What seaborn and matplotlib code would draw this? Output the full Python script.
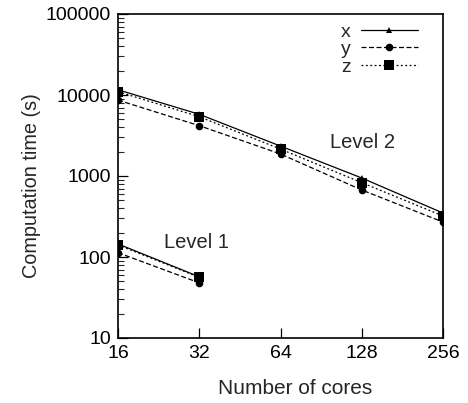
import matplotlib
matplotlib.use("Agg")
import matplotlib.pyplot as plt
import seaborn as sns
import pandas as pd
from matplotlib.lines import Line2D
from matplotlib.ticker import FixedLocator, FixedFormatter, LogLocator, NullFormatter, NullLocator

sns.set_style("white")
plt.rcParams['font.family'] = ['Liberation Sans', 'DejaVu Sans']

cores_l2 = [16, 32, 64, 128, 256]
cores_l1 = [16, 32]
x_l2 = [11600, 5780, 2340, 945, 349]
y_l2 = [8650, 4180, 1870, 672, 270]
z_l2 = [11000, 5390, 2150, 827, 321]
x_l1 = [145, 57]
y_l1 = [113, 48]
z_l1 = [141, 56]
series_names = ["x", "y", "z"]
xticks = [16, 32, 64, 128, 256]
yticks = [10, 100, 1000, 10000, 100000]

fig = plt.figure(figsize=(4.68, 4.03), dpi=100)
ax = fig.add_axes([118/468, 1-338/403, (443-118)/468, (338-14)/403])

styles = {
    "x": dict(linestyle="-", marker="^", markersize=4.5),
    "y": dict(linestyle=(0, (4, 2)), marker="o", markersize=5.5),
    "z": dict(linestyle=(0, (1.5, 2)), marker="s", markersize=6.5),
}
data = {"x": (x_l1, x_l2), "y": (y_l1, y_l2), "z": (z_l1, z_l2)}

for name in ["y", "z", "x"]:
    l1, l2 = data[name]
    for cores, vals in ((cores_l1, l1), (cores_l2, l2)):
        df = pd.DataFrame({"cores": cores, "time": vals})
        sns.lineplot(data=df, x="cores", y="time", ax=ax, color="black",
                     linewidth=0.9, estimator=None, legend=False,
                     markeredgewidth=0, **styles[name])

ax.set_xscale("log", base=2)
ax.set_yscale("log")
ax.set_xlim(16, 256)
ax.set_ylim(10, 100000)
ax.xaxis.set_major_locator(FixedLocator(xticks))
ax.xaxis.set_major_formatter(FixedFormatter([str(t) for t in xticks]))
ax.xaxis.set_minor_locator(NullLocator())
ax.yaxis.set_major_locator(FixedLocator(yticks))
ax.yaxis.set_major_formatter(FixedFormatter([str(t) for t in yticks]))
ax.yaxis.set_minor_locator(LogLocator(base=10, subs=range(2, 10), numticks=20))
ax.yaxis.set_minor_formatter(NullFormatter())

ax.tick_params(axis="both", which="major", direction="in", length=7, width=0.9,
               labelsize=14, colors="black", pad=5)
ax.tick_params(axis="y", which="minor", direction="in", length=4, width=0.8, left=True)
ax.tick_params(axis="x", which="both", bottom=True, top=False)
ax.tick_params(axis="y", which="both", left=True, right=False)
for s in ax.spines.values():
    s.set_color("black")
    s.set_linewidth(1.2)

ax.set_xlabel("Number of cores", fontsize=15, labelpad=12)
ax.xaxis.set_label_coords(0.546, -0.125)
ax.set_ylabel("Computation time (s)", fontsize=14.3)
ax.yaxis.set_label_coords(-0.236, 0.472)

ax.annotate("Level 2", xy=(362/468, 1-143/403), xycoords="figure fraction",
            ha="center", va="center", fontsize=14.5)
ax.annotate("Level 1", xy=(197/468, 1-242/403), xycoords="figure fraction",
            ha="center", va="center", fontsize=14.5)

handles = [Line2D([], [], color="black", linewidth=0.9, markeredgewidth=0, **styles[n])
           for n in series_names]
leg = ax.legend(handles, series_names, loc="upper right", bbox_to_anchor=(0.958, 1.008),
                markerfirst=False, frameon=False, fontsize=14, handlelength=2.9,
                handletextpad=0.55, labelspacing=0.0, borderaxespad=0.2)

fig.savefig("out.png", dpi=100)
